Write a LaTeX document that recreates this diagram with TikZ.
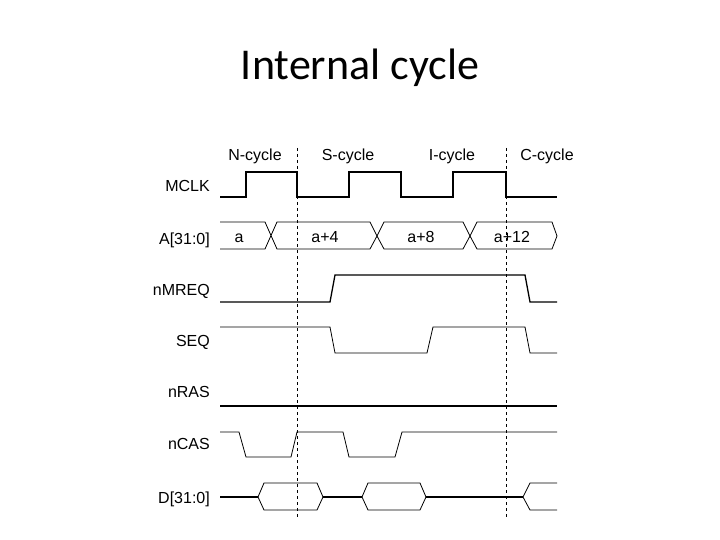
\documentclass[tikz,border=0pt]{standalone}
\usepackage{fontspec}
\setmainfont{Liberation Sans}
\newfontfamily\titlefont{Carlito}
\begin{document}
\begin{tikzpicture}[x=1pt,y=-1pt,
  sig/.style={line width=1.3pt,line join=miter},
  thin/.style={line width=0.8pt},
  lab/.style={anchor=base east,font=\fontsize{16}{16}\selectfont,inner sep=0},
  cyc/.style={anchor=base,font=\fontsize{16}{16}\selectfont,inner sep=0},
  cycleline/.style={dashed,line width=0.6pt}]
\useasboundingbox (0,0) rectangle (720,540);
\node[font=\titlefont\fontsize{44}{44}\selectfont] (title) at (360,68) {Internal cycle};
% cycle labels
\node[cyc] (nc) at (255,161) {N-cycle};
\node[cyc] (sc) at (348,161) {S-cycle};
\node[cyc] (ic) at (452,161) {I-cycle};
\node[cyc] (cc) at (547,161) {C-cycle};
% signal labels
\node[lab] (l1) at (210,192) {MCLK};
\node[lab] (l2) at (210,244) {A[31:0]};
\node[lab] (l3) at (210,295) {nMREQ};
\node[lab] (l4) at (210,346) {SEQ};
\node[lab] (l5) at (210,397) {nRAS};
\node[lab] (l6) at (210,449) {nCAS};
\node[lab] (l7) at (210,503) {D[31:0]};
% dashed lines
\coordinate (d1a) at (297,148); \coordinate (d1b) at (297,517);
\coordinate (d2a) at (506,148); \coordinate (d2b) at (506,517);
\draw[cycleline] (d1a) -- (d1b);
\draw[cycleline] (d2a) -- (d2b);
% MCLK
\draw[sig] (220,197) -- (246,197) -- (246,172) -- (297,172) -- (297,197) -- (349,197) -- (349,172) -- (401,172) -- (401,197) -- (453,197) -- (453,172) -- (506,172) -- (506,197) -- (557,197);
% A bus
\draw[thin] (220,222) -- (265,222) -- (277,249) -- (370,249) -- (377,236) -- (370,222) -- (277,222) -- (265,249) -- (220,249);
\draw[thin] (377,236) -- (384,222) -- (463,222) -- (470,236) -- (463,249) -- (384,249) -- cycle;
\draw[thin] (470,236) -- (477,222) -- (552,222) -- (557,236) -- (552,249) -- (477,249) -- cycle;
\node[cyc] (a0) at (239,242) {a};
\node[cyc] (a4) at (325,242) {a+4};
\node[cyc] (a8) at (421,242) {a+8};
\node[cyc] (a12) at (512,242) {a+12};
% nMREQ
\draw[sig] (220,302) -- (330,302) -- (335,275) -- (525,275) -- (530,302) -- (557,302);
% SEQ
\draw[thin] (220,327) -- (330,327) -- (335,353) -- (427,353) -- (433,327) -- (525,327) -- (530,353) -- (557,353);
% nRAS
\draw[sig] (220,406) -- (557,406);
% nCAS
\draw[thin] (220,432) -- (239,432) -- (246,457) -- (291,457) -- (297,432) -- (343,432) -- (349,457) -- (395,457) -- (402,432) -- (557,432);
% D bus
\draw[sig] (220,497) -- (258,497);
\draw[thin] (258,497) -- (264,483) -- (317,483) -- (323,497) -- (317,510) -- (264,510) -- cycle;
\draw[sig] (323,497) -- (362,497);
\draw[thin] (362,497) -- (368,483) -- (420,483) -- (426,497) -- (420,510) -- (368,510) -- cycle;
\draw[sig] (426,497) -- (523,497);
\draw[thin] (557,483) -- (530,483) -- (523,497) -- (530,510) -- (557,510);
\end{tikzpicture}
\end{document}
